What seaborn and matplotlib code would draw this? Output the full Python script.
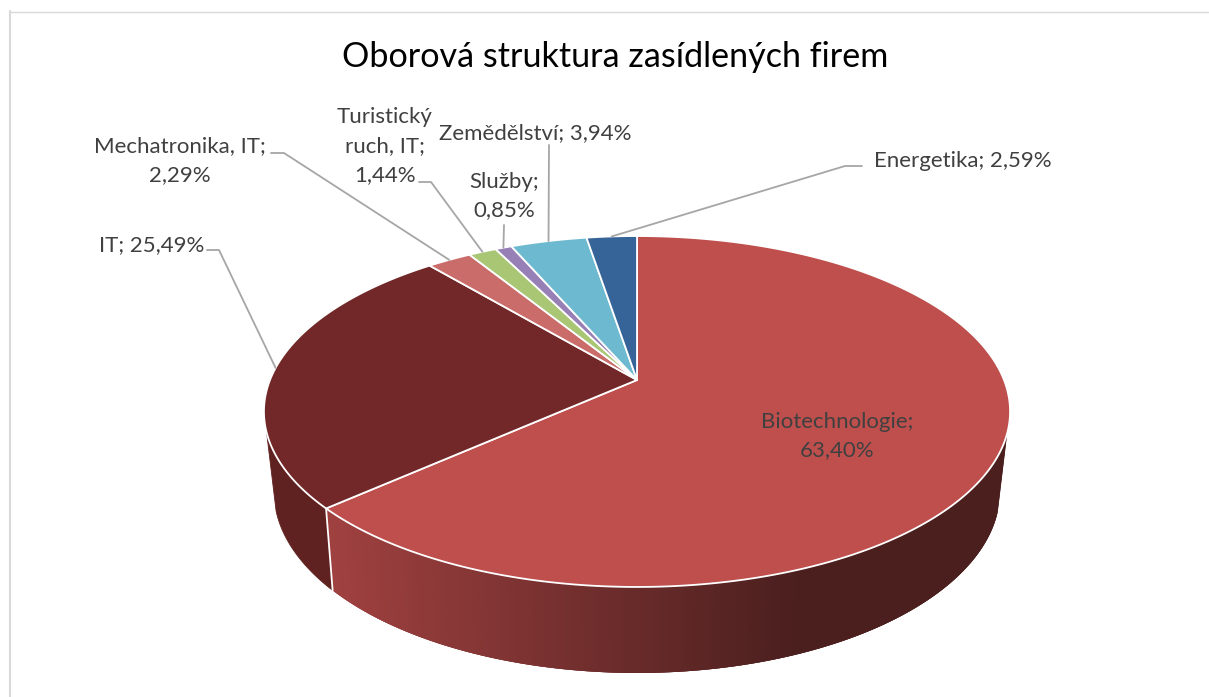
import numpy as np
import seaborn as sns
import matplotlib.pyplot as plt

TITLE = "Oborová struktura zasídlených firem"
CATEGORIES = ["Biotechnologie", "IT", "Mechatronika, IT", "Turistický ruch, IT", "Služby", "Zemědělství", "Energetika"]
SHARES = [63.40, 25.49, 2.29, 1.44, 0.85, 3.94, 2.59]
LABELS = [
    "Biotechnologie;\n63,40%",
    "IT; 25,49%",
    "Mechatronika, IT;\n2,29%",
    "Turistický\nruch, IT;\n1,44%",
    "Služby;\n0,85%",
    "Zemědělství; 3,94%",
    "Energetika; 2,59%",
]
COLORS = ["#BE4F4C", "#722828", "#C96C6A", "#A9C675", "#9680B5", "#6CB9D0", "#376498"]

# label centre and the elbow of the leader (None = straight or no leader), in pixels
LABEL_POS = [(837, 436), (152, 245), (180, 161), (385, 146), (504, 196), (535, 133), (963, 161)]
LEADER_START = [None, [(207, 250), (219, 250)], [(271, 153), (284, 153)], [(419, 182), (431, 182)],
                [(504, 225)], [(549, 145)], [(862, 166), (845, 166)]]

CX = 637
# projective tilt of the top and bottom disc: (b, a, c, d)
TOP = (380.0, -101.6, 0.1795, 367.0)
BOTTOM = (457.0, -88.1, 0.19, 356.4)


def rim(theta_deg, disc):
    """Point of a disc rim, theta is clockwise from 12 o'clock."""
    b, a, c, d = disc
    t = np.radians(theta_deg)
    u, v = np.sin(t), np.cos(t)
    w = 1 + c * v
    return CX + d * u / w, (b + a * v) / w


def main():
    sns.set_theme(style="white")
    plt.rcParams["font.family"] = ["Lato", "DejaVu Sans"]

    fig, ax = plt.subplots(figsize=(12.09, 6.97), dpi=100)
    fig.subplots_adjust(0, 0, 1, 1)
    ax.set_xlim(0, 1209)
    ax.set_ylim(697, 0)
    ax.axis("off")

    edges = np.concatenate([[0], np.cumsum(SHARES)]) * 3.6

    # side wall of the biotech slice, gradient from left to right
    ramp = sns.blend_palette(["#A04140", "#4A1F1E"], n_colors=256, as_cmap=True)
    steps = np.arange(107, edges[1], 0.5)
    steps = np.append(steps, edges[1])
    # each strip runs on under the next one so no seams show
    for t0, t1 in zip(steps[:-1], steps[1:]):
        t_end = min(t1 + 1.0, edges[1])
        xt, yt = rim(np.array([t0, t_end]), TOP)
        xb, yb = rim(np.array([t_end, t0]), BOTTOM)
        frac = np.clip((rim(t0, BOTTOM)[0] - 333) / (800 - 333), 0, 1)
        ax.fill(np.r_[xt, xb], np.r_[yt, yb], color=ramp(frac), lw=0, zorder=1)

    # side wall of the IT slice
    ts = np.linspace(edges[1], 253, 40)
    xt, yt = rim(ts, TOP)
    xb, yb = rim(ts[::-1], BOTTOM)
    ax.fill(np.r_[xt, xb], np.r_[yt, yb], color="#602220", lw=0.6, zorder=1)

    # white seam between the two walls
    xt, yt = rim(edges[1], TOP)
    xb, yb = rim(edges[1], BOTTOM)
    ax.plot([xt, xb], [yt, yb], color="white", lw=1.3, zorder=2)

    # top face
    for start, end, col in zip(edges[:-1], edges[1:], COLORS):
        ts = np.linspace(start, end, max(int(end - start) * 2, 8))
        x, y = rim(ts, TOP)
        ax.fill(np.r_[CX, x], np.r_[TOP[0], y], facecolor=col, edgecolor="white", lw=1.3,
                joinstyle="round", zorder=3)

    # labels and leaders
    for i, label in enumerate(LABELS):
        px, py = LABEL_POS[i]
        ax.text(px, py, label, ha="center", va="center", fontsize=16, color="#404040",
                linespacing=1.56, zorder=5)
        if LEADER_START[i] is None:
            continue
        end = rim((edges[i] + edges[i + 1]) / 2, TOP)
        pts = LEADER_START[i] + [end]
        ax.plot([p[0] for p in pts], [p[1] for p in pts], color="#A6A6A6", lw=1.3, zorder=4)

    ax.text(615, 57, TITLE, ha="center", va="center", fontsize=24.6, color="black")

    # chart frame, only top and left show
    ax.plot([10, 10], [11, 697], color="#D9D9D9", lw=1.5, clip_on=False)
    ax.plot([9, 1208], [11.5, 11.5], color="#D9D9D9", lw=1, clip_on=False)

    fig.savefig("out.png", dpi=100)


if __name__ == "__main__":
    main()
